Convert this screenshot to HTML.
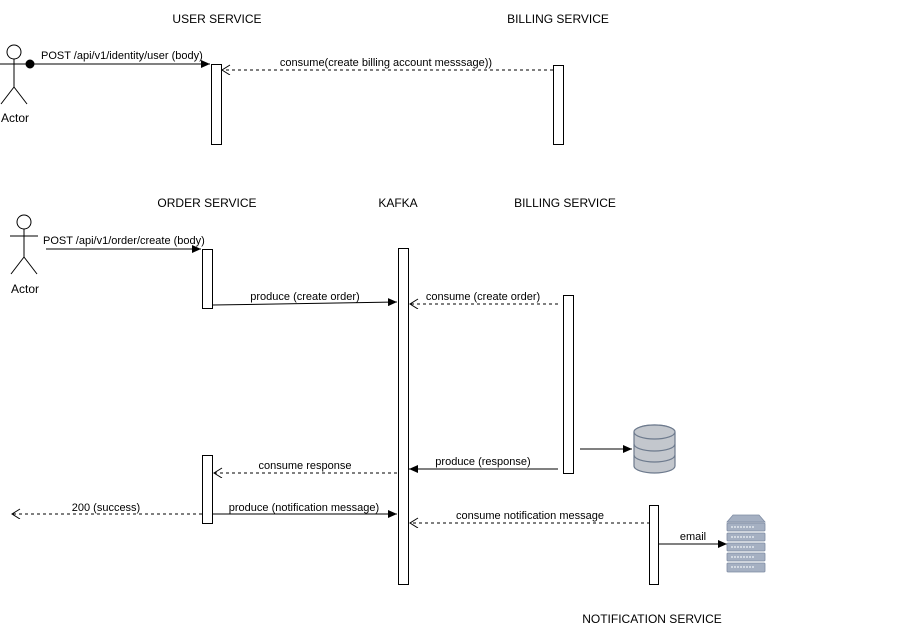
<!DOCTYPE html>
<html><head><meta charset="utf-8"><style>
html,body{margin:0;padding:0;background:#fff;width:920px;height:635px;overflow:hidden}
text{font-family:"Liberation Sans",Arial,sans-serif;font-size:11px;fill:#000}
text.h{font-size:12px}
text.a{font-size:12px}
</style></head><body>
<svg width="920" height="635" viewBox="0 0 920 635" xmlns="http://www.w3.org/2000/svg">
<defs>
<marker id="af" markerWidth="10" markerHeight="8" refX="9" refY="4" orient="auto" markerUnits="userSpaceOnUse"><path d="M0,0 L9,4 L0,8 Z" fill="#000"/></marker>
<marker id="ao" markerWidth="10" markerHeight="12" refX="9" refY="5" orient="auto" markerUnits="userSpaceOnUse"><path d="M1,0 L9,5 L1,10" fill="none" stroke="#000"/></marker>
</defs>
<g text-anchor="middle">
<text class="h" x="217" y="23">USER SERVICE</text>
<text class="h" x="558" y="23">BILLING SERVICE</text>
<text class="h" x="207" y="207">ORDER SERVICE</text>
<text class="h" x="398" y="207">KAFKA</text>
<text class="h" x="565" y="207">BILLING SERVICE</text>
<text class="h" x="652" y="623">NOTIFICATION SERVICE</text>
</g>
<g stroke="#000" fill="none" stroke-width="1">
<circle cx="14" cy="52" r="7" fill="#fff"/>
<line x1="14" y1="59" x2="14" y2="87"/>
<line x1="0" y1="64" x2="28" y2="64"/>
<line x1="14" y1="87" x2="1" y2="104"/>
<line x1="14" y1="87" x2="27" y2="104"/>
<circle cx="24" cy="222" r="7" fill="#fff"/>
<line x1="24" y1="229" x2="24" y2="257"/>
<line x1="10" y1="236" x2="38" y2="236"/>
<line x1="24" y1="257" x2="11" y2="274"/>
<line x1="24" y1="257" x2="37" y2="274"/>
</g>
<text class="a" x="15" y="122" text-anchor="middle">Actor</text>
<text class="a" x="25" y="293" text-anchor="middle">Actor</text>
<g stroke="#000" fill="#fff" stroke-width="1">
<rect x="211.5" y="64.5" width="10" height="80"/>
<rect x="553.5" y="65.5" width="10" height="79"/>
<rect x="202.5" y="249.5" width="10" height="59"/>
<rect x="398.5" y="248.5" width="10" height="336"/>
<rect x="563.5" y="295.5" width="10" height="178"/>
<rect x="202.5" y="455.5" width="10" height="68"/>
<rect x="649.5" y="505.5" width="9" height="79"/>
</g>
<g stroke="#000" stroke-width="1" fill="none">
<circle cx="30" cy="64" r="4" fill="#000"/>
<line x1="30" y1="64" x2="210" y2="64" marker-end="url(#af)"/>
<line x1="553" y1="70" x2="222" y2="70" stroke-dasharray="3,3" marker-end="url(#ao)"/>
<line x1="46" y1="249" x2="201" y2="249" marker-end="url(#af)"/>
<line x1="213" y1="305" x2="397" y2="302" marker-end="url(#af)"/>
<line x1="558" y1="304" x2="410" y2="304" stroke-dasharray="3,3" marker-end="url(#ao)"/>
<line x1="558" y1="469" x2="409" y2="469" marker-end="url(#af)"/>
<line x1="397" y1="473" x2="214" y2="473" stroke-dasharray="3,3" marker-end="url(#ao)"/>
<line x1="202" y1="514" x2="12" y2="514" stroke-dasharray="3,3" marker-end="url(#ao)"/>
<line x1="213" y1="514" x2="397" y2="514" marker-end="url(#af)"/>
<line x1="650" y1="523" x2="410" y2="523" stroke-dasharray="3,3" marker-end="url(#ao)"/>
<line x1="658" y1="544" x2="727" y2="544" marker-end="url(#af)"/>
<line x1="580" y1="449" x2="632" y2="449" marker-end="url(#af)"/>
</g>
<g>
<text x="41" y="59">POST /api/v1/identity/user (body)</text>
<text x="386" y="66" text-anchor="middle">consume(create billing account messsage))</text>
<text x="43" y="244">POST /api/v1/order/create (body)</text>
<text x="305" y="300" text-anchor="middle">produce (create order)</text>
<text x="483" y="300" text-anchor="middle">consume (create order)</text>
<text x="483" y="465" text-anchor="middle">produce (response)</text>
<text x="305" y="469" text-anchor="middle">consume response</text>
<text x="106" y="511" text-anchor="middle">200 (success)</text>
<text x="304" y="511" text-anchor="middle">produce (notification message)</text>
<text x="530" y="519" text-anchor="middle">consume notification message</text>
<text x="693" y="540" text-anchor="middle">email</text>
</g>
<g stroke="#6d7a8d" stroke-width="1.2" fill="#c3c7cd">
<path d="M634,432 a20.5,7 0 0 1 41,0 v34 a20.5,7 0 0 1 -41,0 Z"/>
<ellipse cx="654.5" cy="432" rx="20.5" ry="7"/>
<path d="M634,444 a20.5,7 0 0 0 41,0" fill="none"/>
<path d="M634,455 a20.5,7 0 0 0 41,0" fill="none"/>
</g>
<g fill="#a5b0c2" stroke="#7f8ca3" stroke-width="0.8">
<path d="M733,515 h26 l6,7 h-38 Z"/>
<rect x="727" y="523" width="38" height="8" rx="1"/>
<rect x="727" y="533" width="38" height="8" rx="1"/>
<rect x="727" y="543" width="38" height="8" rx="1"/>
<rect x="727" y="553" width="38" height="8" rx="1"/>
<rect x="727" y="563" width="38" height="9" rx="1"/>
</g>
<g stroke="#eef1f5" stroke-width="1.2">
<line x1="731" y1="527" x2="755" y2="527" stroke-dasharray="2,1"/>
<line x1="731" y1="537" x2="755" y2="537" stroke-dasharray="2,1"/>
<line x1="731" y1="547" x2="755" y2="547" stroke-dasharray="2,1"/>
<line x1="731" y1="557" x2="755" y2="557" stroke-dasharray="2,1"/>
<line x1="731" y1="567" x2="755" y2="567" stroke-dasharray="2,1"/>
</g>
</svg>
</body></html>
